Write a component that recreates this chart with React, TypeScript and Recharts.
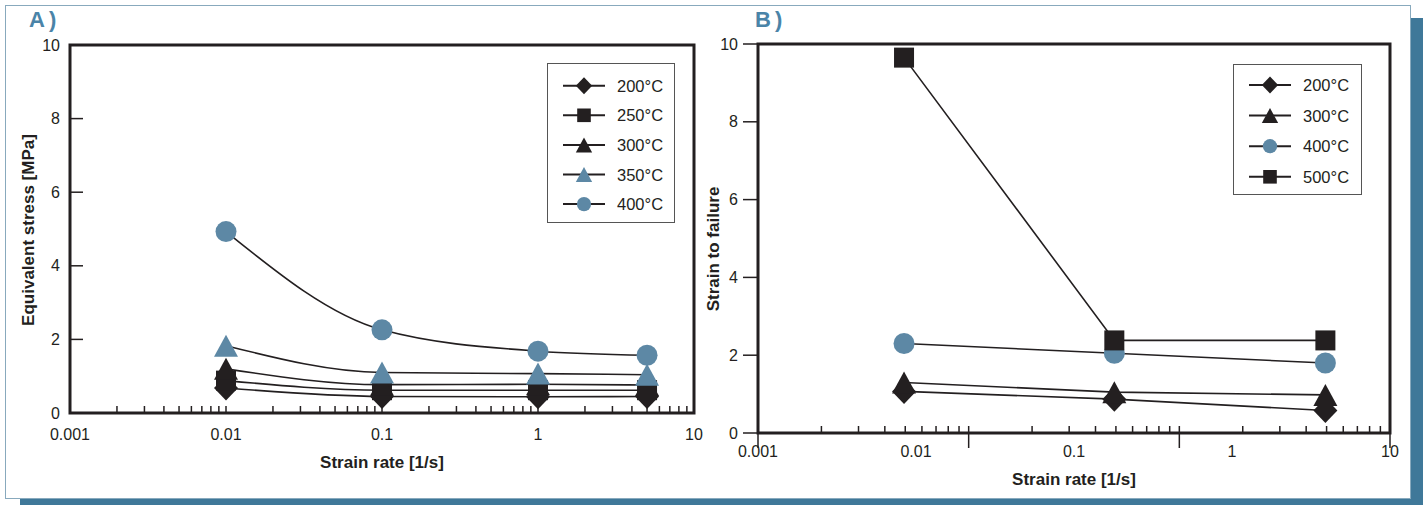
import React from "react";
import { LineChart, Line, XAxis, YAxis, Legend, ReferenceArea } from "recharts";

// Panel A: equivalent stress vs strain rate
const rateA = [0.01, 0.1, 1, 5];
const stressA200 = [0.68, 0.45, 0.44, 0.45];
const stressA250 = [0.88, 0.62, 0.62, 0.62];
const stressA300 = [1.2, 0.77, 0.78, 0.76];
const stressA350 = [1.83, 1.1, 1.07, 1.04];
const stressA400 = [4.93, 2.26, 1.68, 1.57];

// Panel B: strain to failure vs strain rate
const rateB = [0.0084, 0.18, 3.9];
const strainB200 = [1.07, 0.87, 0.58];
const strainB300 = [1.3, 1.05, 0.98];
const strainB400 = [2.3, 2.05, 1.8];
const strainB500 = [9.65, 2.38, 2.38];

const decadeTicks = [0.001, 0.01, 0.1, 1, 10];
const logTicksA = [
  0.001, 0.002, 0.003, 0.004, 0.005, 0.006, 0.007, 0.008, 0.009,
  0.01, 0.02, 0.03, 0.04, 0.05, 0.06, 0.07, 0.08, 0.09,
  0.1, 0.2, 0.3, 0.4, 0.5, 0.6, 0.7, 0.8, 0.9,
  1, 2, 3, 4, 5, 6, 7, 8, 9, 10,
];
// B's tick marks run on their own 3-decade grid (as in the printed figure)
const minorTicksB = [
  1, 2, 3, 4, 5, 6, 7, 8, 9,
  10, 20, 30, 40, 50, 60, 70, 80, 90,
  100, 200, 300, 400, 500, 600, 700, 800, 900, 1000,
];
const majorTicksB = [1, 10, 100, 1000];
const yTicks = [0, 2, 4, 6, 8, 10];

const ink = "#231f20";
const blue = "#5d88a5";
const band = "#3f7899";
const font = '"Liberation Sans", Arial, Helvetica, sans-serif';

type Shape = "diamond" | "square" | "triangle" | "circle";
type Series = { key: string; name: string; shape: Shape; color: string; values: number[] };

const seriesA: Series[] = [
  { key: "s200", name: "200°C", shape: "diamond", color: ink, values: stressA200 },
  { key: "s250", name: "250°C", shape: "square", color: ink, values: stressA250 },
  { key: "s300", name: "300°C", shape: "triangle", color: ink, values: stressA300 },
  { key: "s350", name: "350°C", shape: "triangle", color: blue, values: stressA350 },
  { key: "s400", name: "400°C", shape: "circle", color: blue, values: stressA400 },
];

const seriesB: Series[] = [
  { key: "s200", name: "200°C", shape: "diamond", color: ink, values: strainB200 },
  { key: "s300", name: "300°C", shape: "triangle", color: ink, values: strainB300 },
  { key: "s400", name: "400°C", shape: "circle", color: blue, values: strainB400 },
  { key: "s500", name: "500°C", shape: "square", color: ink, values: strainB500 },
];

const rowsA = rateA.map((rate, i) => {
  const row: Record<string, number> = { rate };
  seriesA.forEach((s) => (row[s.key] = s.values[i]));
  return row;
});
const rowsB = rateB.map((rate, i) => {
  const row: Record<string, number> = { rate };
  seriesB.forEach((s) => (row[s.key] = s.values[i]));
  return row;
});

function Marker({ shape, x, y, fill, k = 1 }: { shape: Shape; x: number; y: number; fill: string; k?: number }) {
  if (shape === "diamond") {
    const w = 12 * k, h = 12.5 * k;
    return <path d={`M${x} ${y - h}L${x + w} ${y}L${x} ${y + h}L${x - w} ${y}Z`} fill={fill} />;
  }
  if (shape === "square") {
    const s = 10 * k;
    return <rect x={x - s} y={y - s} width={2 * s} height={2 * s} fill={fill} />;
  }
  if (shape === "triangle") {
    const w = 12 * k, h = 11 * k;
    return <path d={`M${x} ${y - h}L${x + w} ${y + h}L${x - w} ${y + h}Z`} fill={fill} />;
  }
  return <circle cx={x} cy={y} r={10.5 * k} fill={fill} />;
}

const dotFor = (s: Series) => (p: any) => {
  if (p.cx == null || p.cy == null) return <g key={`dot-${p.index}`} />;
  return (
    <g key={`dot-${s.key}-${p.index}`}>
      <Marker shape={s.shape} x={p.cx} y={p.cy} fill={s.color} />
    </g>
  );
};

function LegendBox({ items, width, height, first, gap }: { items: Series[]; width: number; height: number; first: number; gap: number }) {
  return (
    <svg width={width} height={height} style={{ display: "block", fontFamily: font }}>
      <rect x={0.5} y={0.5} width={width - 1} height={height - 1} fill="#fff" stroke="#555" strokeWidth={1} />
      {items.map((it, i) => {
        const y = first + i * gap;
        return (
          <g key={it.key}>
            <line x1={16} x2={58} y1={y} y2={y} stroke={ink} strokeWidth={2} />
            <Marker shape={it.shape} x={37} y={y} fill={it.color} k={0.68} />
            <text x={70} y={y} dominantBaseline="central" fontSize={16.5} fill={ink}>
              {it.name}
            </text>
          </g>
        );
      })}
    </svg>
  );
}

const verticalTitle = (text: string, cx: number, cy: number) => ({
  value: text,
  content: () => (
    <text
      x={cx}
      y={cy}
      transform={`rotate(-90 ${cx} ${cy})`}
      textAnchor="middle"
      dominantBaseline="central"
      fontSize={17}
      fontWeight={700}
      fill={ink}
      fontFamily={font}
    >
      {text}
    </text>
  ),
});

const tickText = { fontSize: 16, fill: ink };
const tickStroke = { stroke: ink, strokeWidth: 1.5 };

function PanelA() {
  return (
    <LineChart width={720} height={505} data={rowsA} margin={{ top: 45, right: 26, bottom: 32, left: 0 }}>
      <XAxis
        xAxisId="main"
        dataKey="rate"
        type="number"
        scale="log"
        domain={[0.001, 10]}
        allowDataOverflow
        ticks={logTicksA}
        interval={0}
        tickFormatter={(v: number) => (decadeTicks.includes(v) ? String(v) : "")}
        tickSize={-7}
        tickMargin={23}
        height={60}
        axisLine={false}
        tickLine={tickStroke}
        tick={tickText}
        label={{ value: "Strain rate [1/s]", position: "insideBottom", offset: 5, fontSize: 17, fontWeight: 700, fill: ink }}
      />
      <YAxis
        yAxisId="main"
        type="number"
        domain={[0, 10]}
        ticks={yTicks}
        interval={0}
        width={70}
        tickSize={-13}
        tickMargin={23}
        axisLine={false}
        tickLine={tickStroke}
        tick={tickText}
        label={verticalTitle("Equivalent stress [MPa]", 28, 230)}
      />
      <ReferenceArea
        xAxisId="main"
        yAxisId="main"
        x1={0.001}
        x2={10}
        y1={0}
        y2={10}
        fill="none"
        fillOpacity={0}
        stroke={ink}
        strokeWidth={3}
        ifOverflow="visible"
      />
      <Legend
        layout="vertical"
        align="center"
        verticalAlign="middle"
        wrapperStyle={{ left: 547, top: 63, width: 128, height: 160 }}
        content={() => <LegendBox items={seriesA} width={128} height={160} first={22.7} gap={29.6} />}
      />
      {seriesA.map((s) => (
        <Line
          key={s.key}
          xAxisId="main"
          yAxisId="main"
          dataKey={s.key}
          name={s.name}
          type="monotone"
          stroke={ink}
          strokeWidth={1.6}
          dot={dotFor(s)}
          activeDot={false}
          isAnimationActive={false}
        />
      ))}
    </LineChart>
  );
}

function PanelB() {
  return (
    <LineChart width={723} height={505} data={rowsB} margin={{ top: 44, right: 33, bottom: 17, left: 0 }}>
      <XAxis
        xAxisId="main"
        dataKey="rate"
        type="number"
        scale="log"
        domain={[0.001, 10]}
        allowDataOverflow
        ticks={decadeTicks}
        interval={0}
        tickFormatter={(v: number) => String(v)}
        tickSize={0}
        tickMargin={12}
        height={54}
        axisLine={false}
        tickLine={false}
        tick={tickText}
        label={{ value: "Strain rate [1/s]", position: "insideBottom", offset: 3, fontSize: 17, fontWeight: 700, fill: ink }}
      />
      <XAxis
        xAxisId="aTicks"
        dataKey="rate"
        type="number"
        scale="log"
        domain={[1, 1000]}
        allowDataOverflow
        ticks={minorTicksB}
        interval={0}
        height={1}
        tickSize={0}
        tickMargin={0}
        axisLine={false}
        tickLine={false}
        tick={(p: any) => (
          <line
            x1={p.x}
            x2={p.x}
            y1={p.y - 7}
            y2={majorTicksB.includes(p.payload.value) ? p.y + 15 : p.y}
            stroke={ink}
            strokeWidth={1.5}
          />
        )}
      />
      <YAxis
        yAxisId="main"
        type="number"
        domain={[0, 10]}
        ticks={yTicks}
        interval={0}
        width={58}
        tickSize={15}
        tickMargin={5}
        axisLine={false}
        tickLine={tickStroke}
        tick={tickText}
        label={verticalTitle("Strain to failure", 13, 249)}
      />
      <ReferenceArea
        xAxisId="main"
        yAxisId="main"
        x1={0.001}
        x2={10}
        y1={0}
        y2={10}
        fill="none"
        fillOpacity={0}
        stroke={ink}
        strokeWidth={3}
        ifOverflow="visible"
      />
      <Legend
        layout="vertical"
        align="center"
        verticalAlign="middle"
        wrapperStyle={{ left: 533, top: 64, width: 129, height: 131 }}
        content={() => <LegendBox items={seriesB} width={129} height={131} first={21} gap={30.6} />}
      />
      {seriesB.map((s) => (
        <Line
          key={s.key}
          xAxisId="main"
          yAxisId="main"
          dataKey={s.key}
          name={s.name}
          type="linear"
          stroke={ink}
          strokeWidth={1.6}
          dot={dotFor(s)}
          activeDot={false}
          isAnimationActive={false}
        />
      ))}
    </LineChart>
  );
}

const panelTag: React.CSSProperties = {
  position: "absolute",
  top: 8,
  fontSize: 22,
  fontWeight: 700,
  letterSpacing: 4,
  color: "#4a84a8",
  lineHeight: "24px",
};

export default function App() {
  return (
    <div style={{ position: "relative", width: 1423, height: 505, overflow: "hidden", background: "#fff", fontFamily: font }}>
      <style>{`body{margin:0}`}</style>
      <div style={{ position: "absolute", left: 20, top: 18, right: 0, bottom: 0, background: band }} />
      <div
        style={{
          position: "absolute",
          left: 5,
          top: 5,
          width: 1406,
          height: 494,
          background: "#fff",
          border: "1.5px solid #88a9bd",
          boxSizing: "border-box",
        }}
      />
      <div style={{ ...panelTag, left: 29 }}>A)</div>
      <div style={{ ...panelTag, left: 755 }}>B)</div>
      <div style={{ position: "absolute", left: 0, top: 0 }}>
        <PanelA />
      </div>
      <div style={{ position: "absolute", left: 700, top: 0 }}>
        <PanelB />
      </div>
    </div>
  );
}
